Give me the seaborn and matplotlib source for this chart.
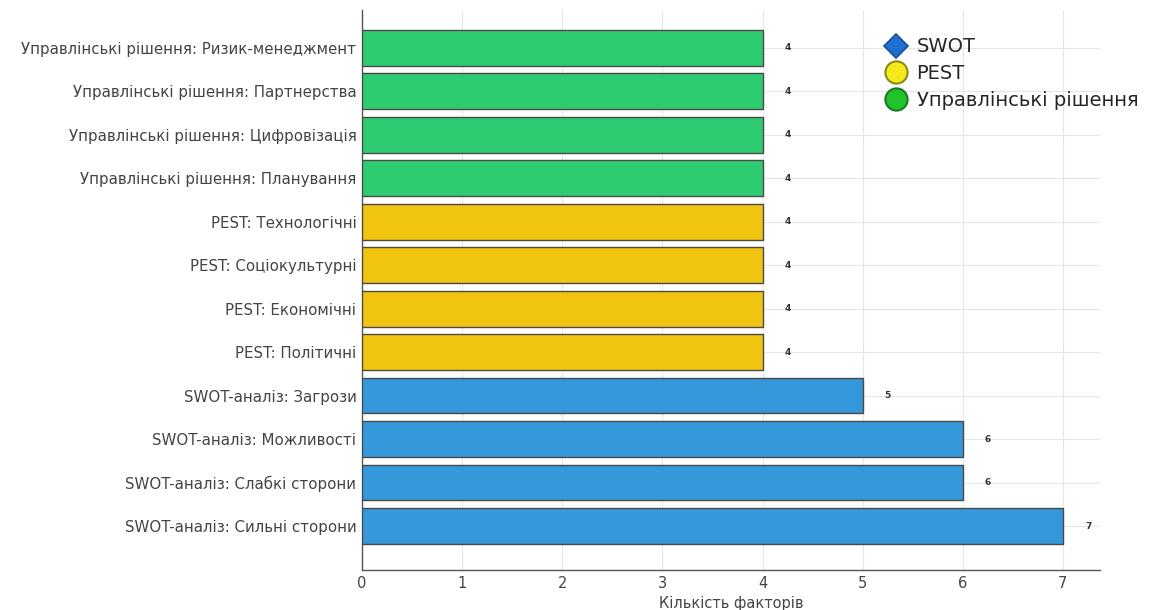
import matplotlib
matplotlib.use("Agg")
import matplotlib.pyplot as plt
from matplotlib.lines import Line2D
import seaborn as sns
import pandas as pd

# Categories listed top to bottom
categories = [
    "Управлінські рішення: Ризик-менеджмент",
    "Управлінські рішення: Партнерства",
    "Управлінські рішення: Цифровізація",
    "Управлінські рішення: Планування",
    "PEST: Технологічні",
    "PEST: Соціокультурні",
    "PEST: Економічні",
    "PEST: Політичні",
    "SWOT-аналіз: Загрози",
    "SWOT-аналіз: Можливості",
    "SWOT-аналіз: Слабкі сторони",
    "SWOT-аналіз: Сильні сторони",
]
counts = [4, 4, 4, 4, 4, 4, 4, 4, 5, 6, 6, 7]
groups = ["Управлінські рішення"] * 4 + ["PEST"] * 4 + ["SWOT"] * 4
x_ticks = [0, 1, 2, 3, 4, 5, 6, 7]
x_label = "Кількість факторів"

palette = {
    "SWOT": "#3498DB",
    "PEST": "#F1C40F",
    "Управлінські рішення": "#2ECC71",
}

df = pd.DataFrame({"category": categories, "count": counts, "group": groups})

sns.set_style("whitegrid")
plt.rcParams["font.family"] = ["DejaVu Sans"]

fig = plt.figure(figsize=(11.5, 6.1), dpi=100)
ax = fig.add_axes([0.3148, 0.0656, 0.6417, 0.918])

sns.barplot(
    data=df, x="count", y="category", hue="group", order=categories,
    palette=palette, saturation=1, dodge=False, width=0.82,
    edgecolor="#4a4a4a", linewidth=1.0, legend=False, ax=ax, zorder=3,
)

ax.set_xlim(0, 7.37)
ax.set_ylim(11 + 1.01, -0.87)
ax.set_xticks(x_ticks)
ax.set_xticklabels([str(t) for t in x_ticks], fontsize=10.5, color="#444444")
ax.tick_params(axis="y", labelsize=10.8, labelcolor="#444444", length=0, pad=4)
ax.tick_params(axis="x", length=4, color="#666666", direction="in", pad=4)
ax.set_xlabel(x_label, fontsize=10.5, color="#444444", labelpad=4)
ax.set_ylabel("")

ax.grid(True, axis="both", color="#e6e6e6", linewidth=0.8, zorder=0)
ax.set_axisbelow(True)
for side in ["top", "right"]:
    ax.spines[side].set_visible(False)
for side in ["left", "bottom"]:
    ax.spines[side].set_visible(True)
    ax.spines[side].set_color("#555555")
    ax.spines[side].set_linewidth(1.0)

# Value labels next to each bar
for i, v in enumerate(counts):
    ax.text(v + 0.22, i, str(v), va="center", ha="left",
            fontsize=6.5, fontweight="bold", color="#333333")

handles = [
    Line2D([0], [0], marker="D", linestyle="none", markersize=12,
           markerfacecolor="#1f6fd1", markeredgecolor="#1a4f9a", markeredgewidth=1.2),
    Line2D([0], [0], marker="o", linestyle="none", markersize=16,
           markerfacecolor="#f7e81c", markeredgecolor="#8a8a1a", markeredgewidth=1.5),
    Line2D([0], [0], marker="o", linestyle="none", markersize=16,
           markerfacecolor="#22c22a", markeredgecolor="#1d7a22", markeredgewidth=1.5),
]
ax.legend(handles, ["SWOT", "PEST", "Управлінські рішення"],
          loc="upper left", bbox_to_anchor=(0.70, 0.965), frameon=False,
          fontsize=14, handletextpad=0.55, labelspacing=0.4,
          handlelength=1.0, borderaxespad=0.0)

fig.savefig("out.png", dpi=100)
